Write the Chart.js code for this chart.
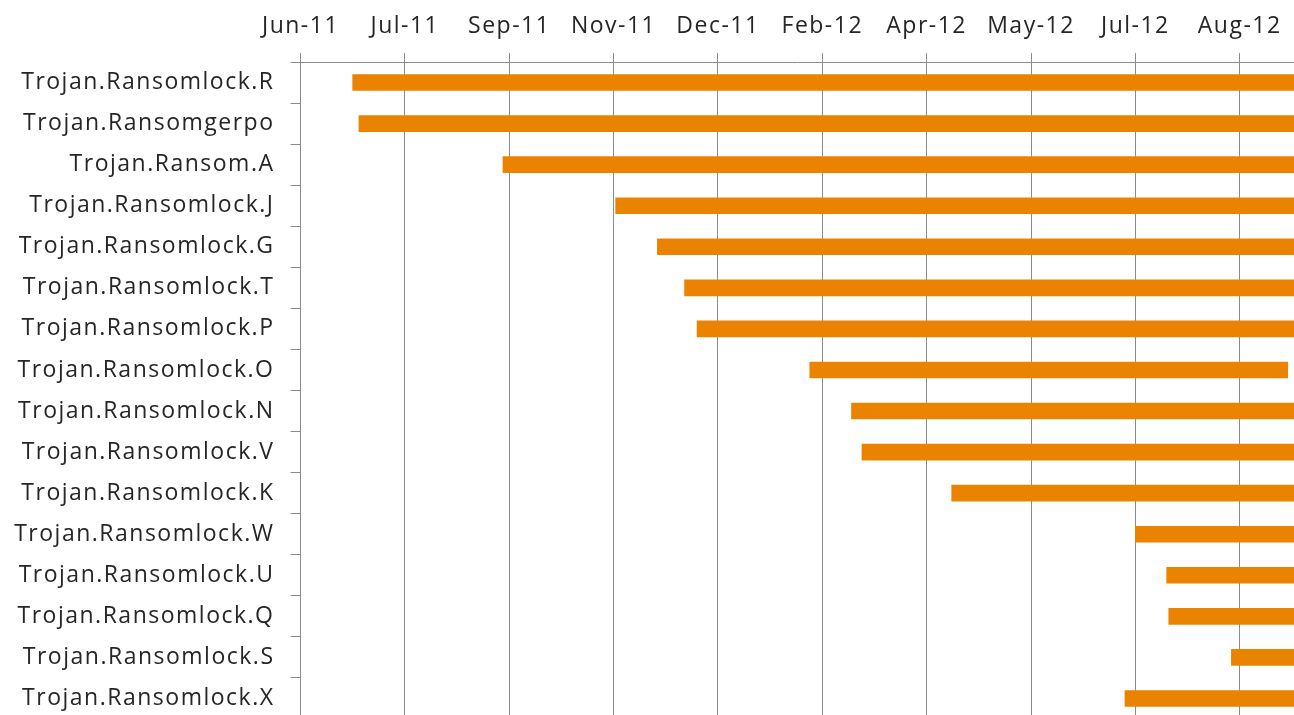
<!DOCTYPE html>
<html>
<head>
<meta charset="utf-8">
<script src="https://cdn.jsdelivr.net/npm/chart.js@4"></script>
<style>
  html, body { margin: 0; padding: 0; background: #fff; overflow: hidden; }
  #wrap { width: 1294px; height: 719px; }
</style>
</head>
<body>
<div id="wrap"><canvas id="ganttChart" width="1294" height="719"></canvas></div>
<script>
// threat names, top to bottom
const names = [
    "Trojan.Ransomlock.R", "Trojan.Ransomgerpo", "Trojan.Ransom.A", "Trojan.Ransomlock.J",
    "Trojan.Ransomlock.G", "Trojan.Ransomlock.T", "Trojan.Ransomlock.P", "Trojan.Ransomlock.O",
    "Trojan.Ransomlock.N", "Trojan.Ransomlock.V", "Trojan.Ransomlock.K", "Trojan.Ransomlock.W",
    "Trojan.Ransomlock.U", "Trojan.Ransomlock.Q", "Trojan.Ransomlock.S", "Trojan.Ransomlock.X"
];

// first seen
const firstSeen = [
    "2011-07-01", "2011-07-04", "2011-09-11", "2011-11-04",
    "2011-11-24", "2011-12-07", "2011-12-13", "2012-02-05",
    "2012-02-25", "2012-03-01", "2012-04-13", "2012-07-10",
    "2012-07-25", "2012-07-26", "2012-08-25", "2012-07-05"
];

// last seen (most run past the right edge of the plot)
const lastSeen = [
    "2012-09-24", "2012-09-24", "2012-09-24", "2012-09-24",
    "2012-09-24", "2012-09-24", "2012-09-24", "2012-09-21",
    "2012-09-24", "2012-09-24", "2012-09-24", "2012-09-24",
    "2012-09-24", "2012-09-24", "2012-09-24", "2012-09-24"
];

const tickLabels = ["Jun-11", "Jul-11", "Sep-11", "Nov-11", "Dec-11", "Feb-12", "Apr-12", "May-12", "Jul-12", "Aug-12"];
const axisStart = "2011-06-06";
const axisEnd = "2012-09-24";
const tickStepDays = 50;

function toDay(s) {
    let p = s.split("-").map(Number);
    return Date.UTC(p[0], p[1] - 1, p[2]) / 86400000;
}

const minDay = toDay(axisStart);
const ranges = firstSeen.map((d, i) => [toDay(d), toDay(lastSeen[i])]);

const gridColor = '#8c8c8c';
const textFont = { family: 'Open Sans', size: 23 };

// the original labels are a bit wider than Open Sans, so space the letters out
const letterSpacingPlugin = {
    id: 'letterSpacing',
    beforeDraw: function(chart) {
        chart.ctx.letterSpacing = '1.5px';
    }
};

const ctx = document.getElementById('ganttChart');
let ganttChart = new Chart(ctx, {
    type: 'bar',
    data: {
        labels: names,
        datasets: [{
            data: ranges,
            backgroundColor: '#E98300',
            borderWidth: 0,
            barThickness: 16,
            borderSkipped: false,
        }],
    },
    options: {
        indexAxis: 'y',
        responsive: false,
        animation: false,
        devicePixelRatio: 1,
        layout: { padding: 0 },
        plugins: {
            legend: { display: false },
            tooltip: { enabled: false }
        },
        scales: {
            x: {
                position: 'top',
                min: minDay,
                max: toDay(axisEnd),
                afterBuildTicks: function(scale) {
                    scale.ticks = tickLabels.map((t, i) => ({ value: minDay + i * tickStepDays }));
                },
                afterFit: function(scale) {
                    scale.height = 62;
                    scale.paddingLeft = 0;
                    scale.paddingRight = 0;
                },
                ticks: {
                    autoSkip: false,
                    maxRotation: 0,
                    padding: 13,
                    color: '#262626',
                    font: textFont,
                    callback: function(value, index) {
                        return tickLabels[index];
                    }
                },
                grid: {
                    color: gridColor,
                    lineWidth: 1,
                    tickLength: 9
                },
                border: { color: gridColor, width: 1 }
            },
            y: {
                afterFit: function(scale) {
                    scale.width = 300.5;
                    scale.paddingTop = 0;
                    scale.paddingBottom = 0;
                },
                ticks: {
                    autoSkip: false,
                    padding: 16,
                    color: '#262626',
                    font: textFont
                },
                grid: {
                    offset: true,
                    drawOnChartArea: false,
                    color: gridColor,
                    tickLength: 10
                },
                border: { color: gridColor, width: 1 }
            }
        }
    },
    plugins: [letterSpacingPlugin]
});
</script>
</body>
</html>
